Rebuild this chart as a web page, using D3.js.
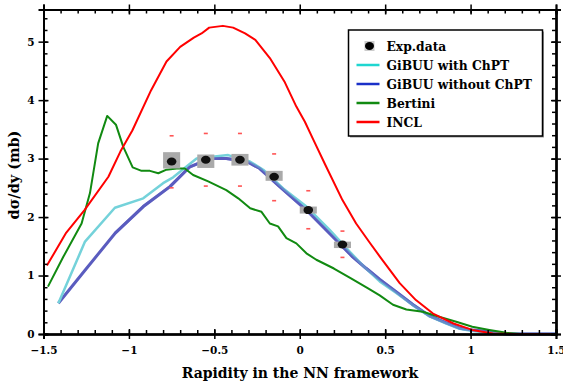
<!DOCTYPE html>
<html>
<head>
<meta charset="utf-8">
<script src="https://cdn.jsdelivr.net/npm/d3@7"></script>
<style>
  body { margin: 0; background: #fff; }
  svg text { font-family: "DejaVu Serif", "Liberation Serif", serif; font-weight: bold; }
</style>
</head>
<body>
<svg id="chart" width="563" height="385"></svg>
<script>
// experimental points
var expX = [-0.75, -0.55, -0.35, -0.15, 0.05, 0.25];
var expY = [2.95, 2.98, 2.98, 2.69, 2.12, 1.53];
var expErrHi = [3.39, 3.43, 3.43, 3.08, 2.45, 1.76];
var expErrLo = [2.50, 2.53, 2.53, 2.28, 1.80, 1.31];
var expSysHi = [3.11, 3.07, 3.08, 2.79, 2.18, 1.58];
var expSysLo = [2.83, 2.84, 2.88, 2.62, 2.06, 1.47];

// model curves
var inclX = [-1.48, -1.37, -1.26, -1.12, -1.05, -0.98, -0.87, -0.78, -0.70, -0.62, -0.575, -0.53, -0.45, -0.39, -0.32, -0.26, -0.175, -0.09, -0.02, 0.03, 0.08, 0.15, 0.25, 0.33, 0.41, 0.47, 0.585, 0.68, 0.78, 0.90, 1.01, 1.13, 1.25, 1.5];
var inclY = [1.17, 1.72, 2.12, 2.69, 3.12, 3.48, 4.17, 4.66, 4.91, 5.07, 5.14, 5.24, 5.27, 5.24, 5.14, 5.03, 4.72, 4.32, 3.89, 3.63, 3.32, 2.89, 2.29, 1.89, 1.56, 1.32, 0.87, 0.58, 0.35, 0.18, 0.07, 0.01, 0, 0];

var bertiniX = [-1.474, -1.384, -1.277, -1.228, -1.18, -1.127, -1.076, -1.033, -0.978, -0.926, -0.877, -0.828, -0.78, -0.72, -0.673, -0.624, -0.536, -0.43, -0.36, -0.29, -0.224, -0.175, -0.127, -0.078, -0.02, 0.039, 0.097, 0.2, 0.3, 0.4, 0.468, 0.546, 0.624, 0.72, 0.82, 0.916, 1.01, 1.11, 1.21, 1.29, 1.5];
var bertiniY = [0.81, 1.32, 1.89, 2.41, 3.26, 3.73, 3.58, 3.20, 2.85, 2.79, 2.79, 2.75, 2.81, 2.83, 2.83, 2.72, 2.61, 2.46, 2.32, 2.15, 2.09, 1.89, 1.84, 1.64, 1.55, 1.38, 1.27, 1.12, 0.95, 0.78, 0.66, 0.50, 0.42, 0.38, 0.29, 0.21, 0.125, 0.07, 0.02, 0, 0];

var withX = [-1.413, -1.257, -1.082, -0.916, -0.8, -0.741, -0.604, -0.419, -0.292, -0.214, -0.097, 0.039, 0.175, 0.292, 0.38, 0.468, 0.565, 0.663, 0.76, 0.858, 0.936, 1.01, 1.11, 1.21, 1.5];
var withY = [0.525, 1.58, 2.16, 2.32, 2.58, 2.68, 3.0, 3.06, 2.95, 2.81, 2.49, 2.18, 1.78, 1.41, 1.14, 0.90, 0.70, 0.49, 0.30, 0.18, 0.09, 0.05, 0.02, 0, 0];

var withoutX = [-1.413, -1.257, -1.082, -0.916, -0.76, -0.643, -0.526, -0.43, -0.31, -0.234, -0.117, 0.039, 0.175, 0.31, 0.39, 0.468, 0.565, 0.663, 0.76, 0.858, 0.936, 1.01, 1.11, 1.21, 1.5];
var withoutY = [0.525, 1.09, 1.72, 2.18, 2.52, 2.86, 3.0, 3.0, 2.95, 2.83, 2.52, 2.12, 1.72, 1.32, 1.12, 0.935, 0.72, 0.50, 0.31, 0.19, 0.10, 0.07, 0.04, 0, 0];

var legendNames = ["Exp.data", "GiBUU with ChPT", "GiBUU without ChPT", "Bertini", "INCL"];
var legendColors = [null, "#1fd6d0", "#1a30c8", "#118a11", "#ff0000"];

var xTicks = [-1.5, -1, -0.5, 0, 0.5, 1, 1.5];
var yTicks = [0, 1, 2, 3, 4, 5];

var margin = {left: 43.5, right: 7, top: 9.5, bottom: 51};
var width = 563 - margin.left - margin.right;
var height = 385 - margin.top - margin.bottom;

var svg = d3.select('#chart');
var g = svg.append('g').attr('transform', 'translate(' + margin.left + ',' + margin.top + ')');

var xScale = d3.scaleLinear().domain([-1.5, 1.5]).range([0, width]);
var yScale = d3.scaleLinear().domain([0, 5.55]).range([height, 0]);

function fmt(d) {
  return d === 0 ? "0" : d3.format("")(d).replace("-", "\u2212");
}

// curves
var line = d3.line().x(function(d) { return xScale(d[0]); }).y(function(d) { return yScale(d[1]); });
function pairs(xs, ys) { return xs.map(function(x, i) { return [x, ys[i]]; }); }

g.append('path').datum(pairs(withoutX, withoutY))
  .attr('fill', 'none').attr('stroke', '#5a5cbf').attr('stroke-width', 3)
  .attr('stroke-linejoin', 'round').attr('d', line);
g.append('path').datum(pairs(withX, withY))
  .attr('fill', 'none').attr('stroke', '#74d2da').attr('stroke-width', 2.5)
  .attr('stroke-linejoin', 'round').attr('d', line);
g.append('path').datum(pairs(withoutX, withoutY).slice(2))
  .attr('fill', 'none').attr('stroke', '#5a5cbf').attr('stroke-width', 3)
  .attr('stroke-opacity', 0.6).attr('stroke-linejoin', 'round').attr('d', line);
g.append('path').datum(pairs(bertiniX, bertiniY))
  .attr('fill', 'none').attr('stroke', '#118a11').attr('stroke-width', 2)
  .attr('stroke-linejoin', 'round').attr('d', line);
g.append('path').datum(pairs(inclX, inclY))
  .attr('fill', 'none').attr('stroke', '#ff0000').attr('stroke-width', 2)
  .attr('stroke-linejoin', 'round').attr('d', line);

// exp data: systematic boxes, error caps, points
var boxHalf = 0.05;
g.selectAll('.sys').data(expX).enter().append('rect')
  .attr('x', function(d) { return xScale(d - boxHalf); })
  .attr('width', xScale(boxHalf) - xScale(-boxHalf))
  .attr('y', function(d, i) { return yScale(expSysHi[i]); })
  .attr('height', function(d, i) { return yScale(expSysLo[i]) - yScale(expSysHi[i]); })
  .attr('fill', '#aaaaaa');
[expErrHi, expErrLo].forEach(function(arr) {
  g.selectAll(null).data(expX).enter().append('rect')
    .attr('x', function(d) { return xScale(d) - 2; })
    .attr('y', function(d, i) { return yScale(arr[i]) - 0.8; })
    .attr('width', 4).attr('height', 1.6)
    .attr('fill', '#ff5555');
});
g.selectAll('.pt').data(expX).enter().append('ellipse')
  .attr('cx', function(d) { return xScale(d); })
  .attr('cy', function(d, i) { return yScale(expY[i]); })
  .attr('rx', 4.8).attr('ry', 4)
  .attr('fill', '#111');

// axes
var xMinor = d3.range(-1.5, 1.5001, 0.1);
var yMinor = d3.range(0, 5.5001, 0.2);

function ax(gen, scale, ticks, minor, tr, labels) {
  var a = g.append('g').attr('transform', tr);
  a.call(gen(scale).tickValues(minor).tickSize(-4).tickFormat(''));
  var b = g.append('g').attr('transform', tr);
  b.call(gen(scale).tickValues(ticks).tickSize(5).tickFormat(labels ? fmt : ''));
  var c = g.append('g').attr('transform', tr);
  c.call(gen(scale).tickValues(ticks).tickSize(-5).tickFormat(''));
  [a, b, c].forEach(function(s) {
    s.selectAll('path').attr('stroke-width', 2);
    s.selectAll('line').attr('stroke-width', 1.5);
    s.selectAll('text').attr('font-size', 10.5);
  });
  return b;
}
var xb = ax(d3.axisBottom, xScale, xTicks, xMinor, 'translate(0,' + height + ')', true);
xb.selectAll('text').attr('dy', '1.15em');
ax(d3.axisTop, xScale, xTicks, xMinor, 'translate(0,0)', false);
var yl = ax(d3.axisLeft, yScale, yTicks, yMinor, 'translate(0,0)', true);
yl.selectAll('text').attr('dx', '-0.1em');
ax(d3.axisRight, yScale, yTicks, yMinor, 'translate(' + width + ',0)', false);

// axis titles
svg.append('text').attr('x', 300).attr('y', 378).attr('text-anchor', 'middle')
  .attr('font-size', 14).text('Rapidity in the NN framework');
svg.append('text').attr('transform', 'translate(19,175) rotate(-90)').attr('text-anchor', 'middle')
  .attr('font-size', 14.5).text('d\u03c3/dy (mb)');

// legend
var lg = svg.append('g').attr('transform', 'translate(348.5,30)');
lg.append('rect').attr('x', 1.5).attr('y', 1.5).attr('width', 194).attr('height', 106).attr('fill', '#999');
lg.append('rect').attr('width', 194).attr('height', 106).attr('fill', '#fff')
  .attr('stroke', '#000').attr('stroke-width', 1.5);
legendNames.forEach(function(name, i) {
  var y = 16 + i * 19;
  if (i === 0) {
    lg.append('rect').attr('x', 16).attr('y', y - 5).attr('width', 10).attr('height', 10).attr('fill', '#ccc');
    lg.append('ellipse').attr('cx', 21).attr('cy', y).attr('rx', 4.5).attr('ry', 4).attr('fill', '#000');
  } else {
    lg.append('line').attr('x1', 8).attr('x2', 31).attr('y1', y).attr('y2', y)
      .attr('stroke', legendColors[i]).attr('stroke-width', 2.5);
  }
  lg.append('text').attr('x', 38).attr('y', y + 4.5).attr('font-size', 12.3).text(name);
});
</script>
</body>
</html>
